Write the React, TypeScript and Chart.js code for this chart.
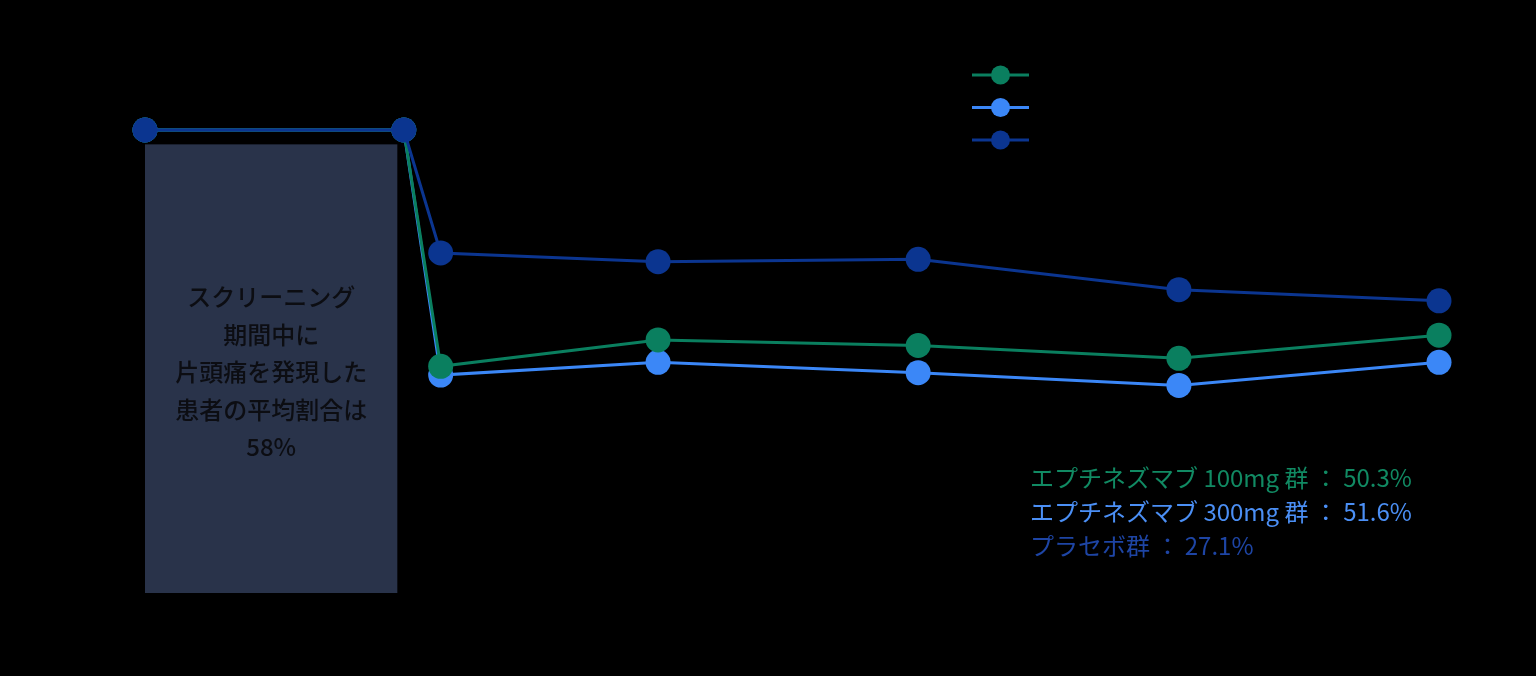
import React, { useEffect, useRef } from 'react';
import { Chart, registerables } from 'chart.js';

Chart.register(...registerables);

// x in weeks: screening start, baseline, day 1 and the monthly visits
const weeks = [-4, 0, 0.57, 3.93, 7.95, 11.98, 16];
const dose100 = [58, 58, 28.4, 31.7, 31.0, 29.4, 32.3];
const dose300 = [58, 58, 27.3, 28.9, 27.6, 26.0, 28.9];
const placebo = [58, 58, 42.6, 41.5, 41.8, 38.0, 36.6];

const seriesNames = ['エプチネズマブ 100mg', 'エプチネズマブ 300mg', 'プラセボ'];
const summaryLines = [
  'エプチネズマブ 100mg 群 ： 50.3%',
  'エプチネズマブ 300mg 群 ： 51.6%',
  'プラセボ群 ： 27.1%',
];
const screeningLines = ['スクリーニング', '期間中に', '片頭痛を発現した', '患者の平均割合は', '58%'];

const GREEN = '#0a7f5f';
const LIGHT = '#3b87f7';
const DARK = '#0b3590';
const FONT = '"Noto Sans CJK JP", "Noto Sans", sans-serif';

const screeningBox = { xFrom: -4, xTo: -0.1, yFrom: 0, yTo: 56.2 };

const overlay = {
  id: 'overlay',
  beforeDatasetsDraw(chart: any) {
    const { ctx, scales } = chart;
    const x = scales.x, y = scales.y;
    const l = x.getPixelForValue(screeningBox.xFrom);
    const r = x.getPixelForValue(screeningBox.xTo);
    const t = y.getPixelForValue(screeningBox.yTo);
    const b = y.getPixelForValue(screeningBox.yFrom);
    ctx.save();
    ctx.fillStyle = '#29334a';
    ctx.fillRect(l, t, r - l, b - t);
    ctx.fillStyle = '#0c0d12';
    ctx.font = `500 24px ${FONT}`;
    ctx.textAlign = 'center';
    ctx.textBaseline = 'middle';
    const cx = (l + r) / 2;
    screeningLines.forEach((s, i) => ctx.fillText(s, cx, 297 + i * 37.5));
    ctx.restore();
  },
  afterDraw(chart: any) {
    const { ctx } = chart;
    ctx.save();
    // legend
    chart.data.datasets.forEach((ds: any, i: number) => {
      const cy = 75 + i * 32.5;
      ctx.strokeStyle = ds.borderColor;
      ctx.lineWidth = 3;
      ctx.beginPath();
      ctx.moveTo(972, cy);
      ctx.lineTo(1029, cy);
      ctx.stroke();
      ctx.fillStyle = ds.backgroundColor;
      ctx.beginPath();
      ctx.arc(1000.5, cy, 9.5, 0, Math.PI * 2);
      ctx.fill();
      ctx.fillStyle = '#000';
      ctx.font = `18px ${FONT}`;
      ctx.textAlign = 'left';
      ctx.textBaseline = 'middle';
      ctx.fillText(ds.label, 1042, cy);
    });
    // summary
    const colors = ['#118a63', '#4b8ff5', '#1e45a5'];
    ctx.font = `24px ${FONT}`;
    ctx.textAlign = 'left';
    ctx.textBaseline = 'middle';
    summaryLines.forEach((s, i) => {
      ctx.fillStyle = colors[i];
      ctx.fillText(s, 1030, 478 + i * 34);
    });
    ctx.restore();
  },
};

export default function App() {
  const canvasRef = useRef<HTMLCanvasElement>(null);
  useEffect(() => {
    const ctx = canvasRef.current!.getContext('2d')!;
    const mk = (label: string, vals: number[], color: string, order: number) => ({
      label,
      data: weeks.map((w, i) => ({ x: w, y: vals[i] })),
      borderColor: color,
      backgroundColor: color,
      pointBackgroundColor: color,
      pointBorderWidth: 0,
      pointRadius: 12.5,
      borderWidth: 3,
      tension: 0,
      order,
    });
    const chart = new Chart(ctx, {
      type: 'line',
      data: {
        datasets: [
          mk(seriesNames[0], dose100, GREEN, 1),
          mk(seriesNames[1], dose300, LIGHT, 2),
          mk(seriesNames[2], placebo, DARK, 0),
        ],
      },
      options: {
        responsive: true,
        maintainAspectRatio: false,
        animation: false,
        layout: { padding: { left: 80.3, right: 32.3, top: 34.2, bottom: 83 } },
        scales: {
          x: { type: 'linear', min: -5, max: 17, display: false },
          y: { min: 0, max: 70, display: false },
        },
        plugins: { legend: { display: false }, tooltip: { enabled: false } },
      },
      plugins: [overlay],
    });
    return () => chart.destroy();
  }, []);
  return (
    <div style={{ position: 'fixed', left: 0, top: 0, width: 1536, height: 676, background: '#000' }}>
      <canvas ref={canvasRef} aria-label="片頭痛を発現した患者の割合の推移"></canvas>
    </div>
  );
}
